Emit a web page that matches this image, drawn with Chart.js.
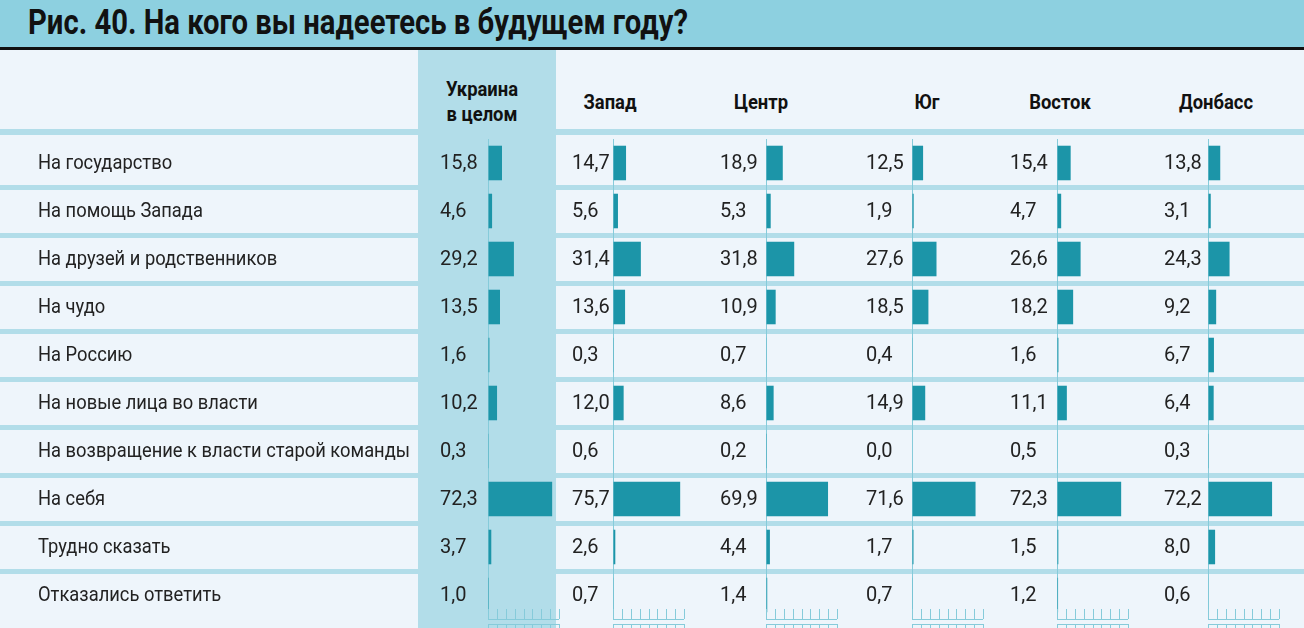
<!DOCTYPE html>
<html lang="ru">
<head>
<meta charset="utf-8">
<script src="https://cdn.jsdelivr.net/npm/chart.js@4.4.1/dist/chart.umd.min.js"></script>
<style>
  html, body { margin: 0; padding: 0; }
  body { width: 1304px; height: 628px; overflow: hidden; background: #eef5fb; font-family: Roboto, "Noto Sans", sans-serif; }
  #page { position: relative; width: 1304px; height: 628px; }
  .title-bar { position: absolute; left: 0; top: 0; width: 1304px; height: 47px; background: #8dd0e0; }
  .title { position: absolute; left: 28px; top: 2px; font-size: 35px; line-height: 42px; font-weight: 700; color: #111; white-space: nowrap; transform-origin: 0 0; }
  .rule { position: absolute; left: 0; top: 47px; width: 1304px; height: 3px; background: #111; }
  .ukr-col { position: absolute; left: 418px; top: 50px; width: 138px; height: 578px; background: #b2dde9; }
  .hdr-band { position: absolute; left: 0; top: 129px; width: 1304px; height: 6px; background: #b2dde9; }
  .hdr { position: absolute; font-size: 20px; font-weight: 700; color: #111; white-space: nowrap; text-align: center; line-height: 25px; transform: translateX(-50%) scaleX(0.92); }
  canvas { position: absolute; left: 0; top: 0; pointer-events: none; }
</style>
</head>
<body>
<div id="page">
  <div class="title-bar"></div>
  <div class="title" id="title">Рис. 40. На кого вы надеетесь в будущем году?</div>
  <div class="rule"></div>
  <div class="ukr-col"></div>
  <div class="hdr-band"></div>
  <div class="hdr" style="left:482px; top:77px;">Украина<br>в целом</div>
  <div class="hdr" style="left:610px; top:90px;">Запад</div>
  <div class="hdr" style="left:761px; top:90px;">Центр</div>
  <div class="hdr" style="left:927px; top:90px;">Юг</div>
  <div class="hdr" style="left:1060px; top:90px;">Восток</div>
  <div class="hdr" style="left:1216px; top:90px;">Донбасс</div>
  <canvas id="c0" width="1304" height="628"></canvas>
  <canvas id="c1" width="1304" height="628"></canvas>
  <canvas id="c2" width="1304" height="628"></canvas>
  <canvas id="c3" width="1304" height="628"></canvas>
  <canvas id="c4" width="1304" height="628"></canvas>
  <canvas id="c5" width="1304" height="628"></canvas>
</div>
<script>
// answers (rows)
const answers = [
  'На государство',
  'На помощь Запада',
  'На друзей и родственников',
  'На чудо',
  'На Россию',
  'На новые лица во власти',
  'На возвращение к власти старой команды',
  'На себя',
  'Трудно сказать',
  'Отказались ответить'
];
const regions = ['Украина в целом', 'Запад', 'Центр', 'Юг', 'Восток', 'Донбасс'];

// % per region
const ukraine = [15.8, 4.6, 29.2, 13.5, 1.6, 10.2, 0.3, 72.3, 3.7, 1.0];
const west    = [14.7, 5.6, 31.4, 13.6, 0.3, 12.0, 0.6, 75.7, 2.6, 0.7];
const center  = [18.9, 5.3, 31.8, 10.9, 0.7, 8.6, 0.2, 69.9, 4.4, 1.4];
const south   = [12.5, 1.9, 27.6, 18.5, 0.4, 14.9, 0.0, 71.6, 1.7, 0.7];
const east    = [15.4, 4.7, 26.6, 18.2, 1.6, 11.1, 0.5, 72.3, 1.5, 1.2];
const donbass = [13.8, 3.1, 24.3, 9.2, 6.7, 6.4, 0.3, 72.2, 8.0, 0.6];

// axis ticks 0..80
const axisTicks = [0, 10, 20, 30, 40, 50, 60, 70, 80];

const series = [ukraine, west, center, south, east, donbass];

// layout: zero line x of each column, gap from value text start to zero
const zeroX = [488, 613, 766, 912, 1057, 1208];
const valueGap = [48, 41, 46, 46, 47, 44];
const axisWidth = 71;

const BAR = '#1c95a8';
const BAND = '#b2dde9';
const AXIS = '#86cbda';
const TEXT = '#222';

function fmt(v) { return v.toFixed(1).replace('.', ','); }

// horizontal squeeze so the longest answer fits like in the original
let labelScale = 1;
(function () {
  const c = document.createElement('canvas').getContext('2d');
  c.font = '20px Roboto';
  const w = c.measureText(answers[6]).width;
  labelScale = Math.min(1, 372 / w);
})();

const bandsPlugin = {
  id: 'bands',
  beforeDraw(chart) {
    if (chart.canvas.id !== 'c0') return;
    const ctx = chart.ctx, y = chart.scales.y;
    ctx.save();
    ctx.fillStyle = BAND;
    for (let i = 0; i < answers.length - 1; i++) {
      const yb = (y.getPixelForValue(i) + y.getPixelForValue(i + 1)) / 2;
      ctx.fillRect(0, Math.round(yb - 2.5), chart.width, 5);
    }
    ctx.restore();
  }
};

const textPlugin = {
  id: 'texts',
  afterDraw(chart, args, opts) {
    const ctx = chart.ctx, x = chart.scales.x, y = chart.scales.y;
    const col = opts.col;
    const data = chart.data.datasets[0].data;
    ctx.save();
    ctx.fillStyle = TEXT;
    ctx.textBaseline = 'middle';
    ctx.textAlign = 'left';
    ctx.font = '20px Roboto';
    data.forEach((v, i) => {
      ctx.fillText(fmt(v), x.getPixelForValue(0) - valueGap[col], y.getPixelForValue(i) + 1);
    });
    if (col === 0) {
      ctx.font = '20px Roboto';
      answers.forEach((a, i) => {
        ctx.save();
        ctx.translate(38, y.getPixelForValue(i) + 1);
        ctx.scale(labelScale, 1);
        ctx.fillText(a, 0, 0);
        ctx.restore();
      });
    }
    // bottom axis with small ticks pointing up
    const b = chart.chartArea.bottom;
    ctx.strokeStyle = AXIS;
    ctx.lineWidth = 1;
    ctx.beginPath();
    ctx.moveTo(x.getPixelForValue(0), b + 0.5);
    ctx.lineTo(x.getPixelForValue(80), b + 0.5);
    axisTicks.forEach(t => {
      const px = Math.round(x.getPixelForValue(t)) + 0.5;
      ctx.moveTo(px, b - 10);
      ctx.lineTo(px, b);
      ctx.moveTo(px, b + 5);
      ctx.lineTo(px, b + 9);
    });
    ctx.moveTo(x.getPixelForValue(0), b + 5.5);
    ctx.lineTo(x.getPixelForValue(80), b + 5.5);
    ctx.stroke();
    ctx.restore();
  }
};

series.forEach((vals, col) => {
  new Chart(document.getElementById('c' + col), {
    type: 'bar',
    data: {
      labels: answers,
      datasets: [{
        label: regions[col],
        data: vals,
        backgroundColor: BAR,
        barPercentage: 0.72,
        categoryPercentage: 1
      }]
    },
    options: {
      indexAxis: 'y',
      responsive: false,
      animation: false,
      devicePixelRatio: 1,
      layout: {
        padding: { left: zeroX[col], right: 1304 - zeroX[col] - axisWidth, top: 139, bottom: 9 }
      },
      scales: {
        x: {
          min: 0, max: 80,
          ticks: { display: false, stepSize: 10 },
          border: { display: false },
          grid: {
            drawTicks: false,
            lineWidth: 1,
            color: c => c.tick && c.tick.value === 0 ? AXIS : 'rgba(0,0,0,0)'
          }
        },
        y: { display: false }
      },
      plugins: {
        legend: { display: false },
        tooltip: { enabled: false },
        texts: { col: col }
      }
    },
    plugins: [bandsPlugin, textPlugin]
  });
});

// fit title width
(function () {
  const t = document.getElementById('title');
  const w = t.getBoundingClientRect().width;
  t.style.transform = 'scaleX(' + (660 / w) + ')';
})();
</script>
</body>
</html>
